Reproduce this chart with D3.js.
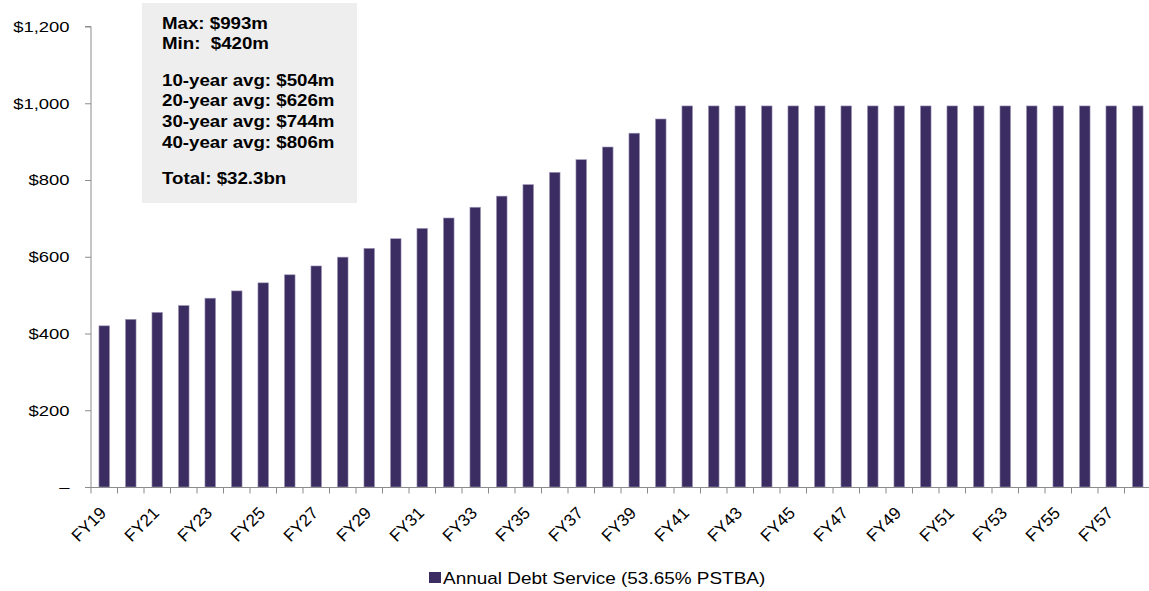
<!DOCTYPE html>
<html>
<head>
<meta charset="utf-8">
<script src="https://cdn.jsdelivr.net/npm/d3@7"></script>
<style>
  html, body { margin: 0; padding: 0; background: #fff; }
  svg { display: block; font-family: "Liberation Sans", Arial, sans-serif; }
</style>
</head>
<body>
<svg id="chart" width="1149" height="591"></svg>
<script>
const categories = ["FY19","FY20","FY21","FY22","FY23","FY24","FY25","FY26","FY27","FY28",
  "FY29","FY30","FY31","FY32","FY33","FY34","FY35","FY36","FY37","FY38",
  "FY39","FY40","FY41","FY42","FY43","FY44","FY45","FY46","FY47","FY48",
  "FY49","FY50","FY51","FY52","FY53","FY54","FY55","FY56","FY57","FY58"];
const debtService = [420,437,455,473,492,511,532,553,576,599,
  622,647,674,701,729,758,788,820,853,886,
  922,959,993,993,993,993,993,993,993,993,
  993,993,993,993,993,993,993,993,993,993];
const yTicks = [0,200,400,600,800,1000,1200];
const yTickLabels = ["–","$200","$400","$600","$800","$1,000","$1,200"];
const xLabels = ["FY19","FY21","FY23","FY25","FY27","FY29","FY31","FY33","FY35","FY37",
  "FY39","FY41","FY43","FY45","FY47","FY49","FY51","FY53","FY55","FY57"];
const seriesName = "Annual Debt Service (53.65% PSTBA)";
const noteGroups = [["Max: $993m","Min:  $420m"],
  ["10-year avg: $504m","20-year avg: $626m","30-year avg: $744m","40-year avg: $806m"],
  ["Total: $32.3bn"]];

const svg = d3.select("#chart");
const plotLeft = 91, plotRight = 1151, plotTop = 26.5, plotBottom = 487;
const barColor = "#3b2d61";
const axisColor = "#8c8c8c";

const x = d3.scaleBand().domain(categories).range([plotLeft, plotRight]).paddingInner(0.6).paddingOuter(0.3);
const y = d3.scaleLinear().domain([0, 1200]).range([plotBottom, plotTop]);

// bars
svg.append("g").selectAll("rect").data(categories).join("rect")
  .attr("x", d => x(d))
  .attr("width", x.bandwidth())
  .attr("y", (d, i) => y(debtService[i]))
  .attr("height", (d, i) => y(0) - y(debtService[i]))
  .attr("fill", barColor)
  .attr("stroke", "#a29bbb")
  .attr("stroke-width", 0.6);

// y axis
const yAxis = d3.axisLeft(y).tickValues(yTicks).tickSize(6).tickPadding(15)
  .tickFormat((d, i) => yTickLabels[i]);
const gy = svg.append("g").attr("transform", `translate(${plotLeft},0)`).call(yAxis);
gy.select(".domain").attr("stroke", axisColor).attr("d", `M-6,${y(1200)}H0V${y(0)}`);
gy.selectAll(".tick line").attr("stroke", axisColor);
gy.selectAll(".tick text")
  .attr("x", 0)
  .attr("transform", "translate(-21.5,0) scale(1.23,1)")
  .attr("font-size", 15).attr("fill", "#000")
  .attr("font-family", "Liberation Sans, Arial, sans-serif");

// x axis baseline and ticks at category boundaries
const step = x.step();
const boundaries = categories.map(d => x(d) - step * 0.3)
  .concat([x(categories[categories.length - 1]) - step * 0.3 + step]);
svg.append("line").attr("x1", plotLeft).attr("x2", plotRight).attr("y1", plotBottom + 0.5).attr("y2", plotBottom + 0.5)
  .attr("stroke", axisColor).attr("stroke-width", 1);
svg.append("g").selectAll("line").data(boundaries).join("line")
  .attr("x1", d => d).attr("x2", d => d)
  .attr("y1", plotBottom).attr("y2", plotBottom + 6.5)
  .attr("stroke", axisColor).attr("stroke-width", 1);

// x labels
svg.append("g").selectAll("text").data(xLabels).join("text")
  .attr("transform", d => `translate(${x(d) + x.bandwidth() / 2 + 3},${plotBottom + 27}) rotate(-45)`)
  .attr("text-anchor", "end")
  .attr("font-size", 17)
  .attr("fill", "#000")
  .text(d => d);

// annotation box
svg.append("rect").attr("x", 142).attr("y", 3).attr("width", 215).attr("height", 200)
  .attr("fill", "#eeeeee");
const noteG = svg.append("g").attr("font-size", 17).attr("font-weight", "bold").attr("fill", "#000");
let yy = 28.7;
noteGroups.forEach(grp => {
  grp.forEach(t => {
    noteG.append("text").attr("transform", `translate(162,${yy}) scale(1.1,1)`)
      .style("white-space", "pre").text(t);
    yy += 20.6;
  });
  yy += 15.8;
});

// legend
const lg = svg.append("g").attr("transform", "translate(429,572)");
lg.append("rect").attr("x", 0).attr("y", 0).attr("width", 12).attr("height", 11).attr("fill", barColor);
lg.append("text").attr("transform", "translate(14,12) scale(1.185,1)")
  .attr("font-size", 16).attr("fill", "#000").text(seriesName);
</script>
</body>
</html>
